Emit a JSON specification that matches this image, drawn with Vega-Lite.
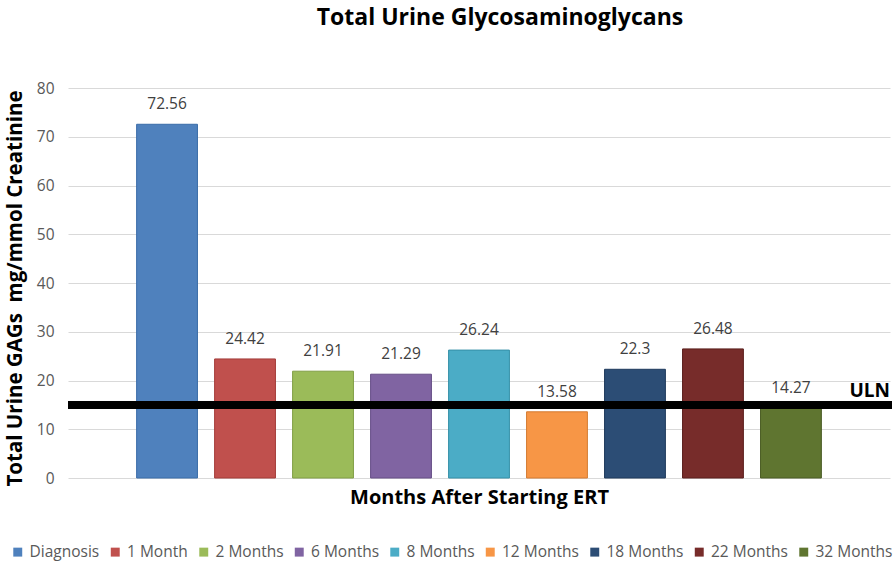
{
  "$schema": "https://vega.github.io/schema/vega-lite/v6.json",
  "width": 822,
  "height": 390,
  "autosize": {"type": "none"},
  "padding": {"left": 68, "top": 88, "right": 6, "bottom": 87},
  "background": "white",
  "config": {
    "view": {"stroke": null},
    "font": "Open Sans"
  },
  "title": {
    "text": "Total Urine Glycosaminoglycans",
    "fontSize": 23,
    "fontWeight": "bold",
    "font": "Open Sans",
    "color": "black",
    "anchor": "middle",
    "dx": 21,
    "offset": 51
  },
  "data": {
    "values": [
      {"period": "Diagnosis", "gags": 72.56},
      {"period": "1 Month", "gags": 24.42},
      {"period": "2 Months", "gags": 21.91},
      {"period": "6 Months", "gags": 21.29},
      {"period": "8 Months", "gags": 26.24},
      {"period": "12 Months", "gags": 13.58},
      {"period": "18 Months", "gags": 22.3},
      {"period": "22 Months", "gags": 26.48},
      {"period": "32 Months", "gags": 14.27}
    ]
  },
  "encoding": {
    "x": {
      "field": "period",
      "type": "nominal",
      "sort": null,
      "scale": {"paddingInner": 0.22, "paddingOuter": 0.88},
      "axis": {
        "title": "Months After Starting ERT",
        "labels": false,
        "ticks": false,
        "domain": false,
        "titleFont": "Open Sans",
        "titleFontSize": 20,
        "titleFontWeight": "bold",
        "titleColor": "black",
        "titlePadding": 9,
        "titleX": 411
      }
    },
    "y": {
      "field": "gags",
      "type": "quantitative",
      "scale": {"domain": [0, 80]},
      "axis": {
        "title": "Total Urine GAGs\u00a0 mg/mmol Creatinine",
        "values": [0, 10, 20, 30, 40, 50, 60, 70, 80],
        "ticks": false,
        "domain": false,
        "gridColor": "#D9D9D9",
        "gridWidth": 1,
        "labelColor": "#595959",
        "labelFont": "Open Sans",
        "labelFontSize": 15.5,
        "labelPadding": 14,
        "titleFont": "Open Sans",
        "titleFontSize": 20.5,
        "titleFontWeight": "bold",
        "titleColor": "black",
        "titleAngle": -90,
        "titleX": -53,
        "titleY": 200,
        "titleAlign": "center",
        "titleBaseline": "middle"
      }
    }
  },
  "layer": [
    {
      "mark": {"type": "bar", "strokeWidth": 1},
      "encoding": {
        "color": {
          "field": "period",
          "type": "nominal",
          "sort": null,
          "scale": {
            "range": ["#4F81BD", "#C0504D", "#9BBB59", "#8064A2", "#4BACC6", "#F79646", "#2C4D75", "#772C2A", "#5F7530"]
          },
          "legend": {
            "title": null,
            "orient": "none",
            "direction": "horizontal",
            "columns": 9,
            "legendX": -58,
            "legendY": 456,
            "symbolType": "square",
            "symbolSize": 80,
            "symbolStrokeWidth": 0,
            "symbolOpacity": 1,
            "labelFont": "Open Sans",
            "labelFontSize": 15.5,
            "labelColor": "#595959",
            "labelOffset": 4,
            "columnPadding": 7.5
          }
        },
        "stroke": {
          "field": "period",
          "type": "nominal",
          "sort": null,
          "scale": {
            "range": ["#3A6CA8", "#A33C39", "#809E45", "#664E87", "#3590A8", "#D47B31", "#1F3A5C", "#5A1E1C", "#4A5C24"]
          },
          "legend": null
        }
      }
    },
    {
      "mark": {"type": "text", "dy": -20, "fontSize": 15.5, "font": "Open Sans", "color": "#404040"},
      "encoding": {
        "text": {"field": "gags", "type": "quantitative"}
      }
    },
    {
      "data": {"values": [{"uln": 15, "label": "ULN"}]},
      "mark": {"type": "rule", "color": "black", "strokeWidth": 8},
      "encoding": {
        "x": {"value": 0},
        "x2": {"value": 824},
        "y": {"field": "uln", "type": "quantitative"}
      }
    },
    {
      "data": {"values": [{"uln": 15, "label": "ULN", "period": "32 Months"}]},
      "mark": {"type": "text", "fontSize": 19, "fontWeight": "bold", "font": "Open Sans", "color": "black", "align": "right", "baseline": "bottom", "dx": 99, "dy": -4},
      "encoding": {
        "x": {"field": "period", "type": "nominal"},
        "y": {"field": "uln", "type": "quantitative"},
        "text": {"field": "label"}
      }
    }
  ]
}
